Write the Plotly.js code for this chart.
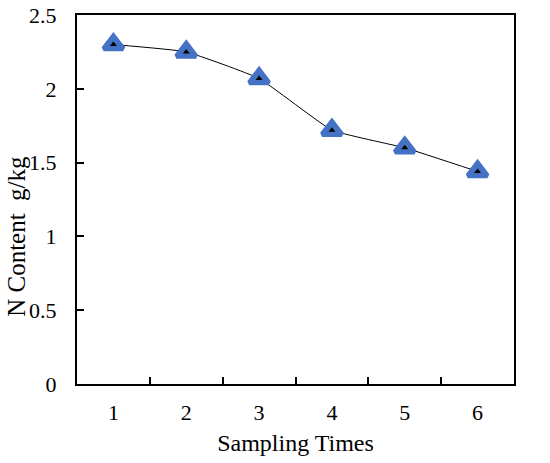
<!DOCTYPE html>
<html>
<head>
<meta charset="utf-8">
<script src="https://cdn.plot.ly/plotly-3.0.1.min.js"></script>
<style>html,body{margin:0;padding:0;background:#fff}</style>
</head>
<body>
<div id="chart" style="width:550px;height:463px"></div>
<script>
const categories = ["1", "2", "3", "4", "5", "6"];
const nContent = [2.30, 2.25, 2.07, 1.72, 1.60, 1.44];
const yTicks = [0, 0.5, 1, 1.5, 2, 2.5];
const yTickLabels = ["0", "0.5", "1", "1.5", "2", "2.5"];

const tickFont = {family: "Liberation Serif, Times New Roman, serif", size: 22, color: "#000"};
const titleFont = {family: "Liberation Serif, Times New Roman, serif", size: 24, color: "#000"};
const yTitleFont = {family: "Liberation Serif, Times New Roman, serif", size: 25, color: "#000"};

const traces = [
  {
    x: categories, y: nContent, type: "scatter", mode: "lines+markers",
    line: {color: "#000", width: 1, shape: "spline", smoothing: 0.35},
    marker: {symbol: "triangle-up", size: 17, color: "#4472C4", line: {color: "#4472C4", width: 5}},
    hoverinfo: "skip"
  },
  {
    x: categories, y: nContent, type: "scatter", mode: "markers",
    marker: {symbol: "triangle-up", size: 6, color: "#000"},
    hoverinfo: "skip"
  }
];

const layout = {
  width: 550, height: 463,
  margin: {l: 77, r: 36, t: 15, b: 79},
  paper_bgcolor: "#fff", plot_bgcolor: "#fff",
  showlegend: false,
  font: tickFont,
  xaxis: {
    type: "category", range: [-0.5, 5.5],
    tickson: "boundaries", ticks: "inside", ticklen: 7, tickwidth: 2, tickcolor: "#000",
    showline: true, linewidth: 2, linecolor: "#000", mirror: true,
    showgrid: false, zeroline: false, ticklabelstandoff: 8,
    tickfont: tickFont,
    title: {text: "Sampling Times", font: titleFont, standoff: 10}
  },
  yaxis: {
    range: [0, 2.5], tickvals: yTicks, ticktext: yTickLabels,
    ticks: "inside", ticklen: 7, tickwidth: 2, tickcolor: "#000",
    showline: true, linewidth: 2, linecolor: "#000", mirror: true,
    showgrid: false, zeroline: false, ticklabelstandoff: 14,
    tickfont: tickFont
  },
  annotations: [{
    text: "N Content\u00a0\u00a0g/kg", xref: "paper", yref: "paper",
    x: -0.14, y: 0.401, xanchor: "center", yanchor: "middle",
    textangle: -90, showarrow: false, font: yTitleFont
  }]
};

Plotly.newPlot("chart", traces, layout, {displayModeBar: false, staticPlot: true});
</script>
</body>
</html>
